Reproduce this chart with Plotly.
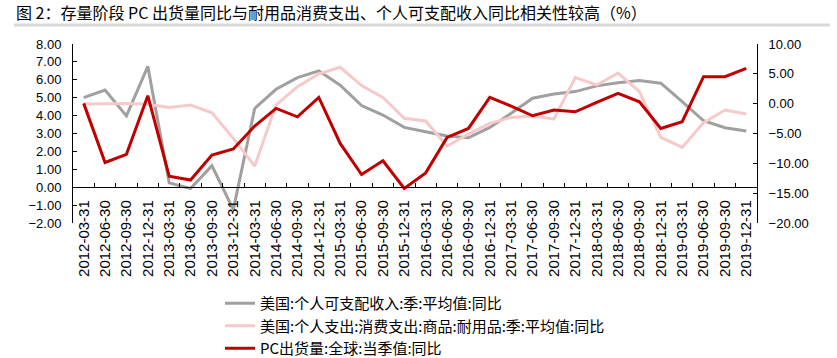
import plotly.graph_objects as go

dates = [f"{y}-{md}" for y in range(2012, 2020) for md in ["03-31", "06-30", "09-30", "12-31"]]

income = [5.00, 5.43, 3.98, 6.75, 0.24, -0.07, 1.20, -1.25, 4.40, 5.47, 6.12, 6.50,
          5.70, 4.56, 4.03, 3.34, 3.10, 2.86, 2.76, 3.34, 4.13, 4.97, 5.21, 5.34,
          5.66, 5.84, 5.96, 5.81, 4.78, 3.71, 3.32, 3.14]

durables = [4.65, 4.67, 4.67, 4.63, 4.46, 4.59, 4.16, 2.73, 1.18, 4.59, 5.62, 6.33,
            6.70, 5.68, 5.02, 3.85, 3.70, 2.30, 2.97, 3.57, 3.90, 3.98, 3.81, 6.12,
            5.71, 6.37, 5.34, 2.78, 2.22, 3.60, 4.31, 4.09]

pc = [0.05, -9.85, -8.50, 1.33, -12.15, -12.80, -8.60, -7.60, -3.76, -0.80, -2.20, 1.05,
      -6.67, -11.87, -9.58, -14.20, -11.60, -5.66, -4.15, 1.05, -0.40, -2.03, -1.07, -1.36,
      0.22, 1.73, 0.32, -4.15, -3.03, 4.52, 4.52, 5.92]

names = ["美国:个人可支配收入:季:平均值:同比",
         "美国:个人支出:消费支出:商品:耐用品:季:平均值:同比",
         "PC出货量:全球:当季值:同比"]
colors = ["#A0A0A0", "#F6C9CB", "#C00000"]

W, H = 837, 358
L, T = 73, 44
R, B = W - 757, H - 223
pw, ph = W - L - R, H - T - B


def px(x):
    return (x - L) / pw


def py(y):
    return (T + ph - y) / ph


fig = go.Figure()
fig.add_trace(go.Scatter(x=dates, y=income, name=names[0], mode="lines",
                         line=dict(color=colors[0], width=3), yaxis="y"))
fig.add_trace(go.Scatter(x=dates, y=durables, name=names[1], mode="lines",
                         line=dict(color=colors[1], width=3), yaxis="y"))
fig.add_trace(go.Scatter(x=dates, y=pc, name=names[2], mode="lines",
                         line=dict(color=colors[2], width=3), yaxis="y2"))

font_cjk = "Noto Sans CJK SC"
tickfont = dict(family="Liberation Sans, " + font_cjk, size=13, color="#000000")

fig.update_layout(
    width=W, height=H, autosize=False,
    margin=dict(l=L, r=R, t=T, b=B, autoexpand=False),
    paper_bgcolor="white", plot_bgcolor="white",
    font=dict(family=font_cjk, color="#000000"),
    xaxis=dict(type="category", anchor="free", position=0.2, showline=True,
               linecolor="#000000", linewidth=1, ticks="inside", ticklen=4,
               tickcolor="#000000", tickson="boundaries", tickangle=-90,
               tickfont=dict(family="Liberation Sans", size=15, color="#000000"),
               ticklabelstandoff=6, automargin=False,
               showgrid=False, zeroline=False, range=[-0.5, 31.5]),
    yaxis=dict(range=[-2, 8], dtick=1, tickformat=".2f", showline=True,
               linecolor="#000000", linewidth=1, ticks="inside", ticklen=4,
               tickcolor="#000000", showgrid=False, zeroline=False, automargin=False,
               tickfont=tickfont, ticklabelstandoff=8),
    yaxis2=dict(range=[-20, 10], dtick=5, tickformat=".2f", overlaying="y", side="right",
                showline=True, linecolor="#000000", linewidth=1, ticks="inside",
                ticklen=4, tickcolor="#000000", showgrid=False, zeroline=False,
                automargin=False, tickfont=tickfont, ticklabelstandoff=8),
    legend=dict(x=px(220), y=py(287), xanchor="left", yanchor="top",
                orientation="v",
                font=dict(family=font_cjk, size=15, color="#000000"),
                bgcolor="rgba(0,0,0,0)", itemwidth=30),
    showlegend=True,
)

fig.add_annotation(text="图 2：存量阶段 PC 出货量同比与耐用品消费支出、个人可支配收入同比相关性较高（%）",
                   xref="paper", yref="paper", x=px(14), y=py(12),
                   xanchor="left", yanchor="middle", showarrow=False,
                   font=dict(family=font_cjk, size=16, color="#000000"))
fig.add_shape(type="line", xref="paper", yref="paper",
              x0=px(14), x1=px(830), y0=py(25), y1=py(25),
              line=dict(color="#D9D9D9", width=3))

fig.write_html("out.html", config={"displayModeBar": False},
               post_script="document.body.style.margin='0';")
